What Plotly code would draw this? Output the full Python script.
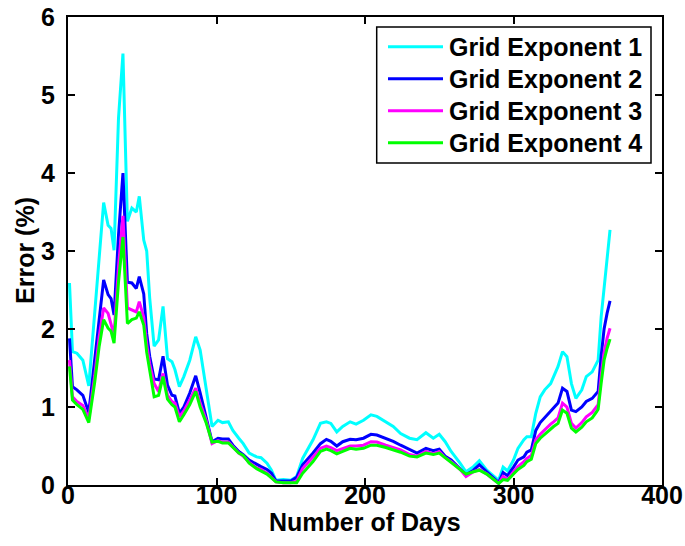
import plotly.graph_objects as go

# Day of year at which each error value was sampled
days = [1, 3, 6, 10, 14, 18, 21, 24, 27, 29, 31, 34, 37, 40, 43, 46, 48, 51, 53, 55,
        58, 61, 64, 67, 70, 72, 75, 78, 82, 86, 89, 93, 97, 101, 104, 108, 111, 115, 118, 122,
        127, 130, 134, 137, 140, 145, 150, 154, 158, 165, 170, 174, 177, 181, 185, 190, 194, 199, 204, 208,
        214, 219, 224, 230, 235, 241, 246, 250, 254, 258, 264, 268, 273, 277, 282, 286, 290, 293, 296, 300,
        303, 307, 309, 312, 315, 318, 321, 325, 327, 330, 333, 336, 339, 342, 346, 349, 353, 356, 357, 359,
        361, 363, 365]

err_exp1 = [2.59, 1.71, 1.69, 1.60, 1.27, 2.20, 3.00, 3.62, 3.33, 3.29, 3.01, 4.70, 5.53, 3.38, 3.55, 3.50, 3.70, 3.14, 3.00, 2.40,
            1.78, 1.86, 2.29, 1.62, 1.58, 1.48, 1.26, 1.39, 1.60, 1.90, 1.73, 1.22, 0.75, 0.83, 0.80, 0.81, 0.70, 0.60, 0.53, 0.41,
            0.36, 0.35, 0.28, 0.19, 0.06, 0.07, 0.06, 0.11, 0.34, 0.58, 0.79, 0.81, 0.79, 0.68, 0.75, 0.81, 0.78, 0.83, 0.90, 0.88,
            0.81, 0.75, 0.66, 0.60, 0.58, 0.67, 0.60, 0.65, 0.555, 0.43, 0.28, 0.17, 0.235, 0.31, 0.19, 0.13, 0.06, 0.23, 0.18, 0.32,
            0.47, 0.58, 0.62, 0.62, 0.92, 1.13, 1.22, 1.30, 1.39, 1.52, 1.71, 1.645, 1.30, 1.11, 1.22, 1.39, 1.45, 1.58, 1.60, 2.15,
            2.55, 2.90, 3.27]

err_exp2 = [1.88, 1.26, 1.22, 1.15, 0.93, 1.60, 2.15, 2.63, 2.44, 2.39, 2.18, 3.20, 4.00, 2.60, 2.59, 2.52, 2.67, 2.45, 1.94, 1.65,
            1.36, 1.35, 1.65, 1.28, 1.15, 1.14, 0.92, 1.00, 1.18, 1.40, 1.18, 0.875, 0.555, 0.60, 0.59, 0.59, 0.51, 0.43, 0.39, 0.32,
            0.26, 0.235, 0.20, 0.15, 0.05, 0.05, 0.05, 0.10, 0.26, 0.41, 0.53, 0.585, 0.56, 0.50, 0.555, 0.585, 0.58, 0.60, 0.65, 0.64,
            0.60, 0.56, 0.51, 0.45, 0.41, 0.47, 0.44, 0.46, 0.37, 0.32, 0.21, 0.13, 0.19, 0.26, 0.17, 0.10, 0.03, 0.16, 0.12, 0.23,
            0.32, 0.36, 0.42, 0.45, 0.70, 0.80, 0.86, 0.95, 0.98, 1.05, 1.24, 1.20, 0.96, 0.94, 1.00, 1.07, 1.11, 1.18, 1.20, 1.65,
            2.00, 2.20, 2.36]

err_exp3 = [1.60, 1.13, 1.07, 1.02, 0.85, 1.40, 1.90, 2.27, 2.20, 2.05, 1.92, 2.80, 3.45, 2.27, 2.25, 2.22, 2.35, 2.15, 1.80, 1.55,
            1.30, 1.20, 1.43, 1.15, 1.07, 1.05, 0.875, 0.95, 1.09, 1.24, 1.05, 0.83, 0.53, 0.57, 0.55, 0.55, 0.49, 0.41, 0.37, 0.29,
            0.22, 0.20, 0.15, 0.10, 0.04, 0.03, 0.03, 0.05, 0.21, 0.36, 0.47, 0.50, 0.48, 0.44, 0.47, 0.50, 0.50, 0.51, 0.555, 0.55,
            0.51, 0.48, 0.45, 0.39, 0.37, 0.43, 0.40, 0.43, 0.35, 0.30, 0.20, 0.11, 0.17, 0.20, 0.14, 0.08, 0.02, 0.11, 0.07, 0.17,
            0.235, 0.30, 0.34, 0.38, 0.58, 0.65, 0.71, 0.78, 0.81, 0.86, 1.05, 1.00, 0.79, 0.73, 0.80, 0.875, 0.93, 1.00, 1.03, 1.40,
            1.70, 1.88, 2.01]

err_exp4 = [1.52, 1.09, 1.03, 0.97, 0.80, 1.32, 1.78, 2.12, 2.01, 1.97, 1.82, 2.60, 3.18, 2.07, 2.12, 2.14, 2.22, 2.05, 1.70, 1.45,
            1.13, 1.15, 1.39, 1.10, 1.03, 1.00, 0.81, 0.90, 1.03, 1.20, 1.00, 0.80, 0.55, 0.56, 0.54, 0.54, 0.48, 0.41, 0.38, 0.28,
            0.21, 0.18, 0.14, 0.09, 0.04, 0.03, 0.03, 0.03, 0.15, 0.30, 0.43, 0.46, 0.44, 0.40, 0.43, 0.47, 0.46, 0.47, 0.51, 0.51,
            0.48, 0.45, 0.42, 0.37, 0.36, 0.41, 0.39, 0.41, 0.35, 0.29, 0.20, 0.14, 0.17, 0.19, 0.14, 0.08, 0.02, 0.07, 0.06, 0.14,
            0.20, 0.25, 0.30, 0.33, 0.53, 0.60, 0.65, 0.72, 0.75, 0.79, 0.96, 0.92, 0.73, 0.68, 0.74, 0.81, 0.86, 0.94, 0.97, 1.30,
            1.60, 1.75, 1.87]

series_names = ["Grid Exponent 1", "Grid Exponent 2", "Grid Exponent 3", "Grid Exponent 4"]
series_colors = ["#00FFFF", "#0000FF", "#FF00FF", "#00FF00"]
x_ticks = [0, 100, 200, 300, 400]
y_ticks = [0, 1, 2, 3, 4, 5, 6]

FONT = "Liberation Sans, Arial, sans-serif"
BOLD25 = dict(family=FONT, size=25, color="black", weight="bold")

fig = go.Figure()
for name, color, ys in zip(series_names, series_colors, [err_exp1, err_exp2, err_exp3, err_exp4]):
    fig.add_trace(go.Scatter(x=days, y=ys, mode="lines", name=name,
                             line=dict(color=color, width=3), showlegend=False))

axis_common = dict(showline=True, linecolor="black", linewidth=2, mirror="ticks",
                   ticks="inside", ticklen=7, tickwidth=1.5, tickcolor="black",
                   showgrid=False, zeroline=False, tickfont=BOLD25, automargin=False)

fig.update_xaxes(range=[0, 400], tickvals=x_ticks, ticklabelstandoff=-13, **axis_common)
fig.update_yaxes(range=[0, 6], tickvals=y_ticks, ticklabelstandoff=6, **axis_common)

# Page geometry (pixels) used to place the legend box and axis titles
L, R, T, B = 68, 23, 17, 61
W, H = 685, 546
pw, ph = W - L - R, H - T - B


def px(xp):
    return (xp - L) / pw


def py(yp):
    return (H - B - yp) / ph


x0, x1 = 376.7, 651.0
y0, y1 = 27.0, 163.0
shapes = [dict(type="rect", xref="paper", yref="paper", x0=px(x0), x1=px(x1), y0=py(y1), y1=py(y0),
               line=dict(color="black", width=1.5), fillcolor="white", layer="above")]
annotations = []
row_y = [46.7, 78.7, 110.7, 142.7]
for name, color, ry in zip(series_names, series_colors, row_y):
    shapes.append(dict(type="line", xref="paper", yref="paper", x0=px(388), x1=px(443),
                       y0=py(ry), y1=py(ry), line=dict(color=color, width=3), layer="above"))
    annotations.append(dict(xref="paper", yref="paper", x=px(447), y=py(ry), text=name,
                            showarrow=False, xanchor="left", yanchor="middle", font=BOLD25))

# Axis titles
annotations.append(dict(xref="paper", yref="paper", x=0.5, y=py(522), text="Number of Days",
                        showarrow=False, xanchor="center", yanchor="middle", font=BOLD25))
annotations.append(dict(xref="paper", yref="paper", x=px(25), y=0.5, text="Error (%)", textangle=-90,
                        showarrow=False, xanchor="center", yanchor="middle", font=BOLD25))

fig.update_layout(width=W, height=H, margin=dict(l=L, r=R, t=T, b=B),
                  paper_bgcolor="white", plot_bgcolor="white",
                  shapes=shapes, annotations=annotations)

fig.write_html("out.html")
